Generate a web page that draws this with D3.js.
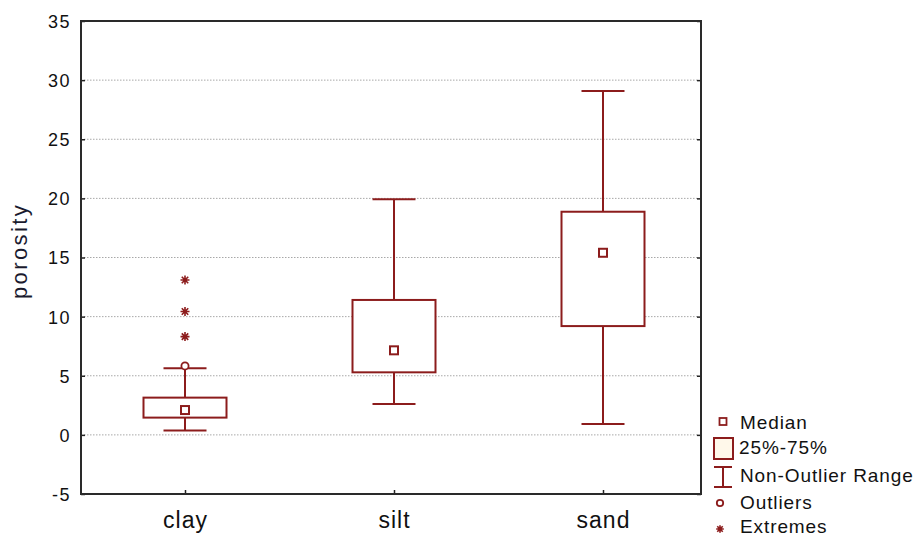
<!DOCTYPE html>
<html>
<head>
<meta charset="utf-8">
<script src="https://cdn.jsdelivr.net/npm/d3@7/dist/d3.min.js"></script>
<style>
  html, body { margin: 0; padding: 0; background: #fff; }
  svg { display: block; }
  text { font-family: "Liberation Sans", Arial, sans-serif; }
</style>
</head>
<body>
<svg id="chart" width="917" height="537"></svg>
<script>
// Porosity by sediment type: box-and-whisker summary
const categories   = ["clay", "silt", "sand"];
const whiskerLow   = [0.36, 2.61, 0.92];
const quartile1    = [1.46, 5.29, 9.2];
const medians      = [2.1, 7.15, 15.4];
const quartile3    = [3.15, 11.41, 18.87];
const whiskerHigh  = [5.63, 19.93, 29.08];
const outlierCats  = ["clay"];
const outlierVals  = [5.83];
const extremeCats  = ["clay", "clay", "clay"];
const extremeVals  = [8.31, 10.43, 13.1];
const yTickValues  = [-5, 0, 5, 10, 15, 20, 25, 30, 35];
const gridValues   = [0, 5, 10, 15, 20, 25, 30];
const legendLabels = ["Median", "25%-75%", "Non-Outlier Range", "Outliers", "Extremes"];

const red = "#8c1c1c";
const svg = d3.select("#chart");

const plot = { left: 81, right: 701, top: 21, bottom: 494 };

const y = d3.scaleLinear().domain([-5, 35]).range([plot.bottom, plot.top]);
const x = d3.scalePoint().domain(categories).range([185, 603]);

const boxW = 83, capW = 43;

// dotted horizontal grid
svg.append("g")
  .selectAll("line")
  .data(gridValues)
  .join("line")
  .attr("x1", plot.left + 3).attr("x2", plot.right - 3)
  .attr("y1", d => y(d)).attr("y2", d => y(d))
  .attr("stroke", "#a8a8a8")
  .attr("stroke-width", 1)
  .attr("stroke-dasharray", "1.5,1.5");

// left axis with inward ticks (plain hyphen for negatives)
const yAxis = svg.append("g")
  .attr("transform", `translate(${plot.left},0)`)
  .call(d3.axisLeft(y).tickValues(yTickValues).tickSize(-4).tickPadding(10).tickFormat(d => String(d)));
yAxis.select(".domain").remove();
yAxis.selectAll(".tick line").attr("stroke", "#222").attr("stroke-width", 1.5);
yAxis.selectAll(".tick text")
  .attr("fill", "#111")
  .attr("font-size", 18)
  .attr("letter-spacing", "1.5px")
  .attr("dy", "0.36em");

// right axis ticks
const yAxisR = svg.append("g")
  .attr("transform", `translate(${plot.right},0)`)
  .call(d3.axisRight(y).tickValues(yTickValues).tickSize(-4).tickFormat(""));
yAxisR.select(".domain").remove();
yAxisR.selectAll(".tick line").attr("stroke", "#222").attr("stroke-width", 1.5);

// bottom axis with category labels
const xAxis = svg.append("g")
  .attr("transform", `translate(0,${plot.bottom})`)
  .call(d3.axisBottom(x).tickSize(-4).tickPadding(20));
xAxis.select(".domain").remove();
xAxis.selectAll(".tick line").attr("stroke", "#222").attr("stroke-width", 1.5);
xAxis.selectAll(".tick text")
  .attr("fill", "#111")
  .attr("font-size", 23)
  .attr("letter-spacing", "1px")
  .attr("dy", "0.6em");

// frame
svg.append("rect")
  .attr("x", plot.left).attr("y", plot.top)
  .attr("width", plot.right - plot.left).attr("height", plot.bottom - plot.top)
  .attr("fill", "none").attr("stroke", "#2a2a2a").attr("stroke-width", 2);

// y-axis title
svg.append("text")
  .attr("transform", `translate(27,251) rotate(-90)`)
  .attr("text-anchor", "middle")
  .attr("font-size", 22)
  .attr("letter-spacing", "2.4px")
  .attr("fill", "#1a1a2e")
  .text("porosity");

// boxes
const boxes = svg.append("g");
categories.forEach((c, i) => {
  const cx = x(c);
  const g = boxes.append("g");
  // whisker stems
  g.append("line").attr("x1", cx).attr("x2", cx)
    .attr("y1", y(quartile3[i])).attr("y2", y(whiskerHigh[i]))
    .attr("stroke", red).attr("stroke-width", 2);
  g.append("line").attr("x1", cx).attr("x2", cx)
    .attr("y1", y(quartile1[i])).attr("y2", y(whiskerLow[i]))
    .attr("stroke", red).attr("stroke-width", 2);
  // caps
  [whiskerHigh[i], whiskerLow[i]].forEach(v => {
    g.append("line").attr("x1", cx - capW / 2).attr("x2", cx + capW / 2)
      .attr("y1", y(v)).attr("y2", y(v))
      .attr("stroke", red).attr("stroke-width", 2);
  });
  // 25%-75% box
  g.append("rect")
    .attr("x", cx - boxW / 2).attr("y", y(quartile3[i]))
    .attr("width", boxW).attr("height", y(quartile1[i]) - y(quartile3[i]))
    .attr("fill", "#fff").attr("stroke", red).attr("stroke-width", 2);
  // median marker
  g.append("rect")
    .attr("x", cx - 4).attr("y", y(medians[i]) - 4)
    .attr("width", 8).attr("height", 8)
    .attr("fill", "#fff").attr("stroke", red).attr("stroke-width", 2);
});

// outliers
svg.append("g").selectAll("circle")
  .data(outlierVals)
  .join("circle")
  .attr("cx", (d, i) => x(outlierCats[i]))
  .attr("cy", d => y(d))
  .attr("r", 3.6)
  .attr("fill", "#fff").attr("stroke", red).attr("stroke-width", 1.8);

// extreme marker: eight-armed asterisk
function asterisk(g, cx, cy, s) {
  const d = s * 0.72;
  const p = `M${cx - s},${cy}L${cx + s},${cy}M${cx},${cy - s}L${cx},${cy + s}` +
            `M${cx - d},${cy - d}L${cx + d},${cy + d}M${cx - d},${cy + d}L${cx + d},${cy - d}`;
  g.append("path").attr("d", p).attr("stroke", red).attr("stroke-width", 1.6).attr("fill", "none");
}
const extG = svg.append("g");
extremeVals.forEach((v, i) => asterisk(extG, x(extremeCats[i]), y(v), 4.5));

// legend
const lg = svg.append("g");
const lx = 723;
lg.append("rect").attr("x", lx - 3.5).attr("y", 418).attr("width", 7).attr("height", 7)
  .attr("fill", "#fff").attr("stroke", red).attr("stroke-width", 1.8);
lg.append("rect").attr("x", 714).attr("y", 438).attr("width", 19).attr("height", 21)
  .attr("fill", "#fff8ea").attr("stroke", red).attr("stroke-width", 2);
lg.append("line").attr("x1", lx).attr("x2", lx).attr("y1", 467).attr("y2", 487).attr("stroke", red).attr("stroke-width", 2);
lg.append("line").attr("x1", lx - 9).attr("x2", lx + 9).attr("y1", 467).attr("y2", 467).attr("stroke", red).attr("stroke-width", 2);
lg.append("line").attr("x1", lx - 9).attr("x2", lx + 9).attr("y1", 487).attr("y2", 487).attr("stroke", red).attr("stroke-width", 2);
lg.append("circle").attr("cx", 720).attr("cy", 503).attr("r", 3.2)
  .attr("fill", "#fff").attr("stroke", red).attr("stroke-width", 1.8);
asterisk(lg, 720, 529, 3.8);

const legendY = [429, 454, 482, 509, 533];
lg.selectAll("text")
  .data(legendLabels)
  .join("text")
  .attr("x", d => d === "25%-75%" ? 739 : 740)
  .attr("y", (d, i) => legendY[i])
  .attr("font-size", 19)
  .attr("letter-spacing", "0.9px")
  .attr("fill", "#111")
  .text(d => d);
</script>
</body>
</html>
